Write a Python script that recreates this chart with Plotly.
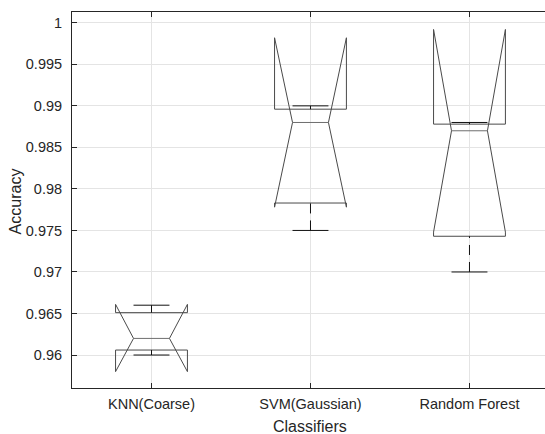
import plotly.graph_objects as go

# ---- data ----
categories = ["KNN(Coarse)", "SVM(Gaussian)", "Random Forest"]
q1 = [0.9606, 0.9783, 0.9743]
median = [0.9620, 0.9880, 0.9870]
q3 = [0.9651, 0.9896, 0.9878]
whisker_low = [0.9600, 0.9750, 0.9700]
whisker_high = [0.9660, 0.9900, 0.9880]
notch_low = [0.9580, 0.9778, 0.9748]
notch_high = [0.9661, 0.9982, 0.9992]

y_tickvals = [0.96, 0.965, 0.97, 0.975, 0.98, 0.985, 0.99, 0.995, 1.0]
y_ticktext = ["0.96", "0.965", "0.97", "0.975", "0.98", "0.985", "0.99", "0.995", "1"]

# ---- style ----
W = 0.226          # box half width (x units)
BOX_COLOR = "#4a4a4a"
MED_COLOR = "#6e6e6e"
WHISK_COLOR = "#111111"
TXT = "#262626"
FONT = "Liberation Sans, Arial, sans-serif"

fig = go.Figure()

for i, cat in enumerate(categories):
    c = i + 1
    # notched outline (MATLAB style, notches may extend past the box)
    xs = [c - W, c - W, c - W / 2, c - W, c - W, c + W, c + W, c + W / 2, c + W, c + W, c - W]
    ys = [q1[i], notch_low[i], median[i], notch_high[i], q3[i], q3[i],
          notch_high[i], median[i], notch_low[i], q1[i], q1[i]]
    fig.add_trace(go.Scatter(x=xs, y=ys, mode="lines",
                             line=dict(color=BOX_COLOR, width=1), hoverinfo="skip"))
    # median
    fig.add_trace(go.Scatter(x=[c - W / 2, c + W / 2], y=[median[i], median[i]], mode="lines",
                             line=dict(color=MED_COLOR, width=1), hoverinfo="skip"))
    # whiskers (dashed, drawn from cap toward box)
    fig.add_trace(go.Scatter(x=[c, c], y=[whisker_low[i], q1[i]], mode="lines",
                             line=dict(color=WHISK_COLOR, width=1, dash="10px,7px"), hoverinfo="skip"))
    fig.add_trace(go.Scatter(x=[c, c], y=[whisker_high[i], q3[i]], mode="lines",
                             line=dict(color=WHISK_COLOR, width=1, dash="10px,7px"), hoverinfo="skip"))
    # caps
    for v in (whisker_low[i], whisker_high[i]):
        fig.add_trace(go.Scatter(x=[c - W / 2, c + W / 2], y=[v, v], mode="lines",
                                 line=dict(color=WHISK_COLOR, width=1), hoverinfo="skip"))

fig.update_layout(
    width=545, height=434,
    margin=dict(l=72, r=0, t=12, b=46),
    paper_bgcolor="white", plot_bgcolor="white",
    showlegend=False,
    font=dict(family=FONT, color=TXT, size=14.5),
    xaxis=dict(
        range=[0.5, 3.475], tickvals=[1, 2, 3], ticktext=categories,
        showgrid=True, gridcolor="#e4e4e4", gridwidth=1,
        showline=True, linecolor=TXT, linewidth=1, mirror="ticks",
        ticks="inside", ticklen=5, tickcolor=TXT, tickwidth=1,
        tickfont=dict(family=FONT, size=14.5, color=TXT),
        ticklabelstandoff=3, zeroline=False,
    ),
    yaxis=dict(
        range=[0.95603, 1.0013], tickvals=y_tickvals, ticktext=y_ticktext,
        showgrid=True, gridcolor="#e4e4e4", gridwidth=1,
        showline=True, linecolor=TXT, linewidth=1, mirror=False,
        ticks="inside", ticklen=5, tickcolor=TXT, tickwidth=1,
        tickfont=dict(family=FONT, size=14.5, color=TXT),
        ticklabelstandoff=6, zeroline=False,
    ),
    annotations=[
        dict(text="Accuracy", xref="paper", yref="paper", x=(15.7 - 72) / 473, y=0.4955,
             xanchor="center", yanchor="middle", textangle=-90, showarrow=False,
             font=dict(family=FONT, size=16, color=TXT)),
        dict(text="Classifiers", xref="x", yref="paper", x=2, y=-0.103,
             xanchor="center", yanchor="middle", showarrow=False,
             font=dict(family=FONT, size=16, color=TXT)),
    ],
)

fig.write_html("out.html")
